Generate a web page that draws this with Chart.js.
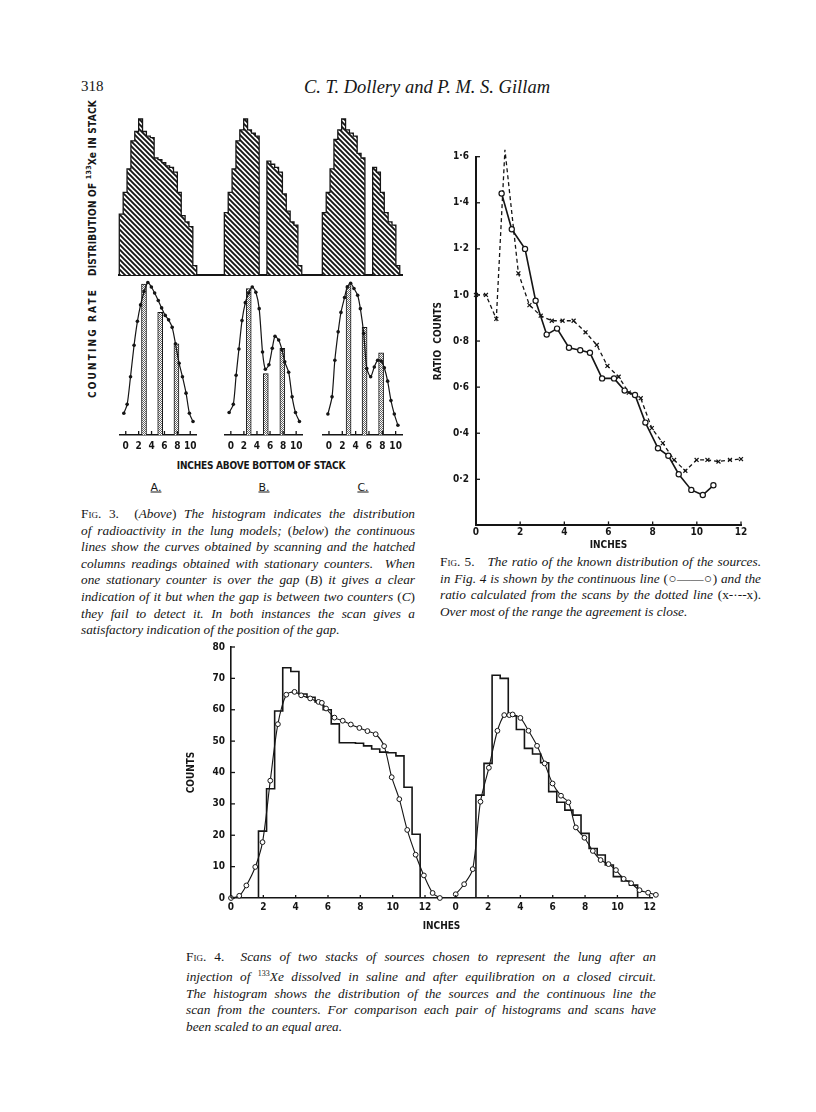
<!DOCTYPE html>
<html>
<head>
<meta charset="utf-8">
<title>Dollery and Gillam, p. 318</title>
<script src="https://cdn.jsdelivr.net/npm/chart.js@4.4.1/dist/chart.umd.min.js"></script>
<style>
  html, body { margin: 0; padding: 0; background: #fff; }
  #page { position: relative; width: 816px; height: 1112px; overflow: hidden; background: #fff; color: #161616; }
  #page canvas { position: absolute; left: 0; top: 0; }
  .t { position: absolute; white-space: nowrap; line-height: 1; }
  .lab { font-family: 'DejaVu Sans Condensed', 'Liberation Sans Narrow', 'DejaVu Sans', sans-serif; font-weight: bold; font-size: 10px; }
  .mid { transform: translate(-50%, -50%); }
  .rot { transform: translate(-50%, -50%) rotate(-90deg); }
  .serif { font-family: 'Liberation Serif', 'DejaVu Serif', serif; }
  .abc { font-family: 'DejaVu Sans', sans-serif; font-size: 11px; text-decoration: underline; }
  .cap { position: absolute; font-family: 'Liberation Serif', 'DejaVu Serif', serif; font-style: italic; font-size: 13.3px; line-height: 16.6px; }
  .cap div { text-align: justify; text-align-last: justify; }
  .cap div.end { text-align-last: left; }
  .fg { font-style: normal; font-variant: small-caps; }
  .up { font-style: normal; }
</style>
</head>
<body>
<div id="page">
  <div class="t serif" style="left:81px;top:79px;font-size:15px;">318</div>
  <div class="t serif mid" style="left:427px;top:87px;font-size:18.5px;font-style:italic;">C. T. Dollery and P. M. S. Gillam</div>

  <div class="t lab rot" id="labDist" style="left:92px;top:188px;">DISTRIBUTION OF <sup style="font-size:7px">133</sup>Xe IN STACK</div>
  <div class="t lab rot" id="labRate" style="left:93px;top:343px;">COUNTING RATE</div>
  <div class="t lab mid" id="labStack" style="left:261px;top:466px;">INCHES ABOVE BOTTOM OF STACK</div>
  <div class="t abc mid" style="left:156px;top:487px;">A.</div>
  <div class="t abc mid" style="left:264px;top:487px;">B.</div>
  <div class="t abc mid" style="left:363px;top:487px;">C.</div>

  <div class="cap" style="left:81px;top:506px;width:334px;">
    <div><span class="fg">Fig. 3.</span>&nbsp; <span class="up">(</span>Above<span class="up">)</span> The histogram indicates the distribution</div>
    <div>of radioactivity in the lung models; <span class="up">(</span>below<span class="up">)</span> the continuous</div>
    <div>lines show the curves obtained by scanning and the hatched</div>
    <div>columns readings obtained with stationary counters.&nbsp; When</div>
    <div>one stationary counter is over the gap <span class="up">(</span>B<span class="up">)</span> it gives a clear</div>
    <div>indication of it but when the gap is between two counters <span class="up">(</span>C<span class="up">)</span></div>
    <div>they fail to detect it. In both instances the scan gives a</div>
    <div class="end">satisfactory indication of the position of the gap.</div>
  </div>

  <div class="cap" style="left:440px;top:554px;width:321px;">
    <div><span class="fg">Fig. 5.</span>&nbsp;&nbsp; The ratio of the known distribution of the sources.</div>
    <div>in Fig. 4 is shown by the continuous line <span class="up">(○——○)</span> and the</div>
    <div>ratio calculated from the scans by the dotted line <span class="up">(x-·--x).</span></div>
    <div class="end">Over most of the range the agreement is close.</div>
  </div>

  <div class="cap" style="left:186px;top:949px;width:470px;">
    <div><span class="fg">Fig. 4.</span>&nbsp; Scans of two stacks of sources chosen to represent the lung after an</div>
    <div>injection of <sup style="font-size:8px;font-style:normal">133</sup>Xe dissolved in saline and after equilibration on a closed circuit.</div>
    <div>The histogram shows the distribution of the sources and the continuous line the</div>
    <div>scan from the counters. For comparison each pair of histograms and scans have</div>
    <div class="end">been scaled to an equal area.</div>
  </div>
</div>

<script>
// ---------- Fig. 3 (above): 133Xe in each stack, 0.5 in bins, relative height ----------
const f3BinEdges = [0, 0.5, 1, 1.5, 2, 2.5, 3, 3.5, 4, 4.5, 5, 5.5, 6, 6.5, 7, 7.5, 8, 8.5, 9, 9.5, 10];
const f3StackA = [39, 53, 68, 86, 92, 100, 92, 89, 88, 75, 74, 72, 70, 69, 66, 53, 38, 34, 31, 6];
const f3StackB = [40, 53, 68, 86, 93, 100, 93, 91, 89, null, null, 73, 71, 69, 66, 52, 41, 34, 32, 6];
const f3StackC = [40, 53, 68, 87, 93, 100, 93, 91, 89, 78, 75, null, null, 69, 66, 53, 40, 34, 32, 6];

// ---------- Fig. 3 (below): scans (dots) and stationary counters (columns) ----------
const f3ScanAx = [-0.3, 0.22, 0.74, 1.29, 1.81, 2.3, 2.85, 3.42, 3.97, 4.48, 5.04, 5.56, 6.12, 6.64, 7.2, 7.71, 8.27, 8.79, 9.35, 9.87, 10.43];
const f3ScanAy = [14.5, 20.5, 39, 60, 76, 87, 96, 102, 99, 95, 90, 85, 80, 77, 72, 61, 48, 39, 28, 14.5, 9];
const f3ScanBx = [-0.26, 0.38, 0.81, 1.24, 1.71, 2.22, 2.73, 3.28, 3.83, 4.34, 4.85, 5.28, 5.83, 6.34, 6.76, 7.32, 7.83, 8.25, 8.85, 9.38, 9.9, 10.5];
const f3ScanBy = [15, 20.5, 40, 57.5, 76.5, 88.5, 95, 99, 95.5, 84.5, 55.5, 44, 47, 58, 66, 63.5, 57, 49, 42, 25.5, 15, 9];
const f3ScanCx = [-0.16, 0.46, 0.88, 1.38, 1.8, 2.34, 2.75, 3.25, 3.75, 4.3, 4.71, 5.21, 5.67, 6.25, 6.8, 7.3, 7.84, 8.3, 8.8, 9.3, 9.8, 10.34];
const f3ScanCy = [14, 25.5, 50, 69, 82, 92, 99, 101.5, 98, 93.5, 84.5, 68, 44.5, 39, 45.5, 50, 49.5, 45, 36, 23, 14, 6.5];
const f3CountAx = [2.83, 5.34, 7.86];
const f3CountAy = [101, 82, 61];
const f3CountBx = [2.74, 5.35, 7.88];
const f3CountBy = [98, 41, 58];
const f3CountCx = [2.94, 5.34, 7.82];
const f3CountCy = [100, 72, 55];
const f3InchTicks = [0, 2, 4, 6, 8, 10];

// ---------- Fig. 5: ratio of known distribution (o) and of scans (x) ----------
const f5KnownX = [1.16, 1.62, 2.22, 2.7, 3.2, 3.67, 4.21, 4.72, 5.16, 5.71, 6.25, 6.73, 7.2, 7.67, 8.24, 8.71, 9.18, 9.75, 10.27, 10.75];
const f5KnownY = [1.44, 1.285, 1.2, 0.975, 0.828, 0.854, 0.771, 0.76, 0.749, 0.638, 0.638, 0.585, 0.566, 0.446, 0.335, 0.302, 0.222, 0.154, 0.132, 0.174];
const f5ScanX = [0, 0.45, 0.92, 1.31, 1.92, 2.42, 2.93, 3.43, 3.92, 4.42, 4.96, 5.47, 5.95, 6.46, 6.92, 7.46, 7.96, 8.46, 8.97, 9.48, 9.99, 10.48, 10.98, 11.5, 12.0, 12.56];
const f5ScanY = [1.0, 1.0, 0.896, 1.63, 1.094, 0.956, 0.91, 0.888, 0.888, 0.888, 0.838, 0.783, 0.692, 0.645, 0.576, 0.552, 0.422, 0.357, 0.284, 0.237, 0.284, 0.284, 0.277, 0.284, 0.288, 0.508];
const f5InchTicks = [0, 2, 4, 6, 8, 10, 12];
const f5RatioTicks = [0.2, 0.4, 0.6, 0.8, 1.0, 1.2, 1.4, 1.6];

// ---------- Fig. 4: two stacks, histogram of sources and scan (counts) ----------
const f4Edges1 = [1.7, 2.2, 2.7, 3.2, 3.7, 4.2, 4.7, 5.2, 5.7, 6.2, 6.7, 7.2, 7.7, 8.2, 8.7, 9.2, 9.7, 10.2, 10.7, 11.2, 11.7];
const f4Stack1 = [21.3, 34.8, 59.6, 73.4, 72.2, 65, 64, 62.5, 60, 55.5, 49.5, 49.5, 49.3, 48.5, 47.5, 46.5, 46.3, 45.3, 35.3, 20.3];
const f4Scan1x = [0, 0.51, 0.95, 1.5, 1.95, 2.43, 2.9, 3.42, 3.93, 4.34, 4.9, 5.41, 5.62, 5.88, 6.4, 6.91, 7.41, 7.94, 8.44, 8.95, 9.47, 9.94, 10.41, 10.9, 11.42, 11.93, 12.47, 12.92];
const f4Scan1y = [0, 0.7, 4, 9.9, 17.8, 37.4, 55.4, 64.8, 65.7, 64.6, 63.6, 62.5, 62.2, 60.4, 57.5, 56.5, 55.3, 54.2, 53.2, 52.2, 48.4, 38.5, 31.5, 21.7, 13.8, 7.2, 1.6, 0];
const f4Edges2 = [1.25, 1.75, 2.25, 2.75, 3.25, 3.75, 4.25, 4.75, 5.25, 5.75, 6.25, 6.75, 7.25, 7.75, 8.25, 8.75, 9.25, 9.75, 10.25, 10.75, 11.25];
const f4Stack2 = [32.8, 42.9, 71, 70, 58, 53.7, 47.7, 45.9, 43.1, 33.9, 30.5, 28, 26.4, 20.6, 15.8, 13.7, 10.5, 6.8, 5.4, 4.1];
const f4Scan2x = [0, 0.52, 1.05, 1.53, 2.05, 2.58, 3.0, 3.31, 3.52, 4.0, 4.5, 5.03, 5.5, 5.99, 6.51, 6.97, 7.43, 7.96, 8.48, 8.96, 9.45, 9.91, 10.39, 10.85, 11.37, 11.9, 12.38];
const f4Scan2y = [1.2, 4.4, 9.2, 30.7, 41.5, 53.3, 58.3, 58.3, 58.5, 57.4, 53.3, 48.5, 42.9, 36.5, 32.6, 30.5, 22.5, 19.2, 15, 12.1, 10.8, 8.9, 6.1, 4.7, 2.5, 1.7, 1];
const f4InchTicks = [0, 2, 4, 6, 8, 10, 12];
const f4CountTicks = [0, 10, 20, 30, 40, 50, 60, 70, 80];

// ---------- layout: plot boxes on the page (px) ----------
const boxF3Top = { l: 119.3, t: 119, r: 402.3, b: 275 };
const boxF3 = [
  { l: 119.3, t: 278, r: 196.7, b: 435 },
  { l: 224.3, t: 278, r: 302.7, b: 435 },
  { l: 322.3, t: 278, r: 402.3, b: 435 }
];
const f3Shift = [0, 13.57, 26.23];
const f3TopMax = 36.56;
const boxF5 = { l: 476, t: 156.7, r: 741, b: 525.4 };
const boxF4 = { l: 231, t: 647, r: 652, b: 898 };
const f4Shift = 13.9;
const f4Max = 26.04;

const ink = '#151515';
const labelFont = { family: "'DejaVu Sans Condensed', 'Liberation Sans Narrow', 'DejaVu Sans', sans-serif", weight: 'bold', size: 10 };
const noGrid = { display: false, drawTicks: false };

Chart.defaults.animation = false;
Chart.defaults.color = ink;
Chart.defaults.font.family = labelFont.family;
Chart.defaults.plugins.legend.display = false;
Chart.defaults.plugins.tooltip.enabled = false;

// tick marks drawn on the inside of the axes
const inwardTicks = {
  id: 'inwardTicks',
  afterDatasetsDraw(chart, args, opts) {
    const ctx = chart.ctx;
    const xs = chart.scales.x;
    const ys = chart.scales.y;
    ctx.save();
    ctx.strokeStyle = ink;
    ctx.lineWidth = 1.3;
    if (opts.x) {
      xs.ticks.forEach((t) => {
        const p = xs.getPixelForValue(t.value);
        ctx.beginPath();
        ctx.moveTo(p, xs.top);
        ctx.lineTo(p, xs.top - opts.x);
        ctx.stroke();
      });
    }
    if (opts.y) {
      ys.ticks.forEach((t) => {
        const p = ys.getPixelForValue(t.value);
        ctx.beginPath();
        ctx.moveTo(ys.right, p);
        ctx.lineTo(ys.right + opts.y, p);
        ctx.stroke();
      });
    }
    ctx.restore();
  }
};
Chart.register(inwardTicks);

function makePattern(size, draw) {
  const c = document.createElement('canvas');
  c.width = size;
  c.height = size;
  const g = c.getContext('2d');
  g.fillStyle = '#fff';
  g.fillRect(0, 0, size, size);
  draw(g);
  return g.createPattern(c, 'repeat');
}

const hatch = makePattern(5, (g) => {
  g.strokeStyle = ink;
  g.lineWidth = 1.9;
  g.beginPath();
  g.moveTo(-1, -1); g.lineTo(6, 6);
  g.moveTo(-1, 4); g.lineTo(1, 6);
  g.moveTo(4, -1); g.lineTo(6, 1);
  g.stroke();
});

const stipple = makePattern(2, (g) => {
  g.fillStyle = '#666';
  g.fillRect(0, 0, 1, 1);
  g.fillRect(1, 1, 1, 1);
});

function newCanvas() {
  const c = document.createElement('canvas');
  c.width = 816;
  c.height = 1112;
  document.getElementById('page').appendChild(c);
  return c.getContext('2d');
}

function place(box, yW, xH) {
  return { left: box.l - yW, top: box.t, right: 816 - box.r, bottom: 1112 - box.b - xH };
}

function fixSize(size) {
  return (s) => {
    if (s.isHorizontal()) s.height = size;
    else s.width = size;
  };
}

function useTicks(values, labels) {
  return (s) => {
    s.ticks = values.map((v, i) => ({ value: v, lab: labels ? labels[i] : String(v) }));
  };
}

const xy = (xs, ys, shift = 0) => xs.map((x, i) => ({ x: x + shift, y: ys[i] }));

// histogram blocks as closed step outlines
function stepBlocks(edges, vals, shift) {
  const out = [];
  let pts = null;
  for (let i = 0; i < vals.length; i++) {
    if (vals[i] == null) { pts = null; continue; }
    if (!pts) { pts = [{ x: edges[i] + shift, y: 0 }]; out.push(pts); }
    pts.push({ x: edges[i] + shift, y: vals[i] });
    if (i === vals.length - 1 || vals[i + 1] == null) pts.push({ x: edges[i + 1] + shift, y: 0 });
  }
  return out;
}

// ---- Fig. 3 top: hatched histograms on one baseline ----
const topSets = [];
[f3StackA, f3StackB, f3StackC].forEach((stack, k) => {
  stepBlocks(f3BinEdges, stack, f3Shift[k]).forEach((pts) => {
    topSets.push({
      data: pts, stepped: true, fill: 'origin', backgroundColor: hatch,
      borderColor: ink, borderWidth: 1.3, pointRadius: 0, clip: false
    });
  });
});

new Chart(newCanvas(), {
  type: 'line',
  data: { datasets: topSets },
  options: {
    responsive: false,
    layout: { padding: place(boxF3Top, 0, 0) },
    scales: {
      x: {
        type: 'linear', min: 0, max: f3TopMax,
        grid: noGrid, ticks: { display: false },
        border: { display: true, color: ink, width: 2 },
        afterFit: fixSize(0)
      },
      y: { display: false, min: 0, max: 100 }
    }
  }
});

// ---- Fig. 3 bottom: scans and stationary counters, stacks A, B, C ----
const f3Scans = [[f3ScanAx, f3ScanAy], [f3ScanBx, f3ScanBy], [f3ScanCx, f3ScanCy]];
const f3Counters = [[f3CountAx, f3CountAy], [f3CountBx, f3CountBy], [f3CountCx, f3CountCy]];

boxF3.forEach((box, k) => {
  new Chart(newCanvas(), {
    type: 'line',
    data: {
      datasets: [
        {
          data: xy(f3Scans[k][0], f3Scans[k][1]),
          borderColor: ink, borderWidth: 1.2, tension: 0.25,
          pointRadius: 1.8, pointBackgroundColor: ink, pointBorderWidth: 0,
          clip: false, order: 1
        },
        {
          type: 'bar',
          data: xy(f3Counters[k][0], f3Counters[k][1]),
          backgroundColor: stipple, borderColor: ink, borderWidth: 1,
          barThickness: 5, order: 2
        }
      ]
    },
    options: {
      responsive: false,
      layout: { padding: place(box, 0, 20) },
      plugins: { inwardTicks: { x: 4 } },
      scales: {
        x: {
          type: 'linear', min: 0, max: 10,
          afterBuildTicks: useTicks(f3InchTicks),
          grid: noGrid,
          border: { display: true, color: ink, width: 1.5 },
          ticks: { autoSkip: false, maxRotation: 0, padding: 5, font: labelFont, callback: (v, i, t) => t[i].lab },
          afterFit: fixSize(20)
        },
        y: { display: false, min: 0, max: 105 }
      }
    }
  });
});

// ---- Fig. 5: ratio counts ----
new Chart(newCanvas(), {
  type: 'line',
  data: {
    datasets: [
      {
        data: xy(f5KnownX, f5KnownY),
        borderColor: ink, borderWidth: 1.6, tension: 0,
        pointRadius: 2.6, pointBackgroundColor: '#fff', pointBorderColor: ink, pointBorderWidth: 1.2,
        clip: false
      },
      {
        data: xy(f5ScanX, f5ScanY),
        borderColor: ink, borderWidth: 1.3, borderDash: [4, 3], tension: 0,
        pointStyle: 'crossRot', pointRadius: 2.8, pointBorderColor: ink, pointBorderWidth: 1.2,
        clip: false
      }
    ]
  },
  options: {
    responsive: false,
    layout: { padding: place(boxF5, 44, 26.3) },
    plugins: { inwardTicks: { x: 4, y: 4 } },
    scales: {
      x: {
        type: 'linear', min: 0, max: 12,
        afterBuildTicks: useTicks(f5InchTicks),
        grid: noGrid,
        border: { display: true, color: ink, width: 2 },
        ticks: { autoSkip: false, maxRotation: 0, padding: 1, font: labelFont, callback: (v, i, t) => t[i].lab },
        title: { display: true, text: 'INCHES', font: labelFont, padding: 0 },
        afterFit: fixSize(26.3)
      },
      y: {
        min: 0, max: 1.6,
        afterBuildTicks: useTicks(f5RatioTicks, f5RatioTicks.map((v) => v.toFixed(1).replace('.', '·'))),
        grid: noGrid,
        border: { display: true, color: ink, width: 2 },
        ticks: { autoSkip: false, padding: 7, font: labelFont, callback: (v, i, t) => t[i].lab },
        title: { display: true, text: 'RATIO  COUNTS', font: labelFont, padding: 0 },
        afterFit: fixSize(44)
      }
    }
  }
});

// ---- Fig. 4: counts for the two stacks ----
const f4TickValues = f4InchTicks.concat(f4InchTicks.map((v) => v + f4Shift));
const f4TickLabels = f4InchTicks.concat(f4InchTicks).map(String);

new Chart(newCanvas(), {
  type: 'line',
  data: {
    datasets: [
      ...stepBlocks(f4Edges1, f4Stack1, 0).concat(stepBlocks(f4Edges2, f4Stack2, f4Shift)).map((pts) => ({
        data: pts, stepped: true, fill: false, borderColor: ink, borderWidth: 1.6,
        pointRadius: 0, order: 2
      })),
      ...[[f4Scan1x, f4Scan1y, 0], [f4Scan2x, f4Scan2y, f4Shift]].map(([xs, ys, sh]) => ({
        data: xy(xs, ys, sh),
        borderColor: ink, borderWidth: 1.1, tension: 0.3,
        pointRadius: 2.4, pointBackgroundColor: '#fff', pointBorderColor: ink, pointBorderWidth: 1,
        clip: false, order: 1
      }))
    ]
  },
  options: {
    responsive: false,
    layout: { padding: place(boxF4, 46, 34.7) },
    plugins: { inwardTicks: { x: 3, y: 4 } },
    scales: {
      x: {
        type: 'linear', min: 0, max: f4Max,
        afterBuildTicks: useTicks(f4TickValues, f4TickLabels),
        grid: noGrid,
        border: { display: true, color: ink, width: 1.6 },
        ticks: { autoSkip: false, maxRotation: 0, padding: 3, font: labelFont, callback: (v, i, t) => t[i].lab },
        title: { display: true, text: 'INCHES', font: labelFont, padding: 0 },
        afterFit: fixSize(34.7)
      },
      y: {
        min: 0, max: 80,
        afterBuildTicks: useTicks(f4CountTicks),
        grid: noGrid,
        border: { display: true, color: ink, width: 1.6 },
        ticks: { autoSkip: false, padding: 6, font: labelFont, callback: (v, i, t) => t[i].lab },
        title: { display: true, text: 'COUNTS', font: labelFont, padding: 0 },
        afterFit: fixSize(46)
      }
    }
  }
});

// stretch the letter-spaced axis captions to the lengths seen on the page
function fitText(id, target) {
  const el = document.getElementById(id);
  const n = el.textContent.length;
  const w = el.offsetWidth;
  el.style.letterSpacing = ((target - w) / n).toFixed(2) + 'px';
}
fitText('labDist', 176);
fitText('labRate', 110);
fitText('labStack', 168);
</script>
</body>
</html>
